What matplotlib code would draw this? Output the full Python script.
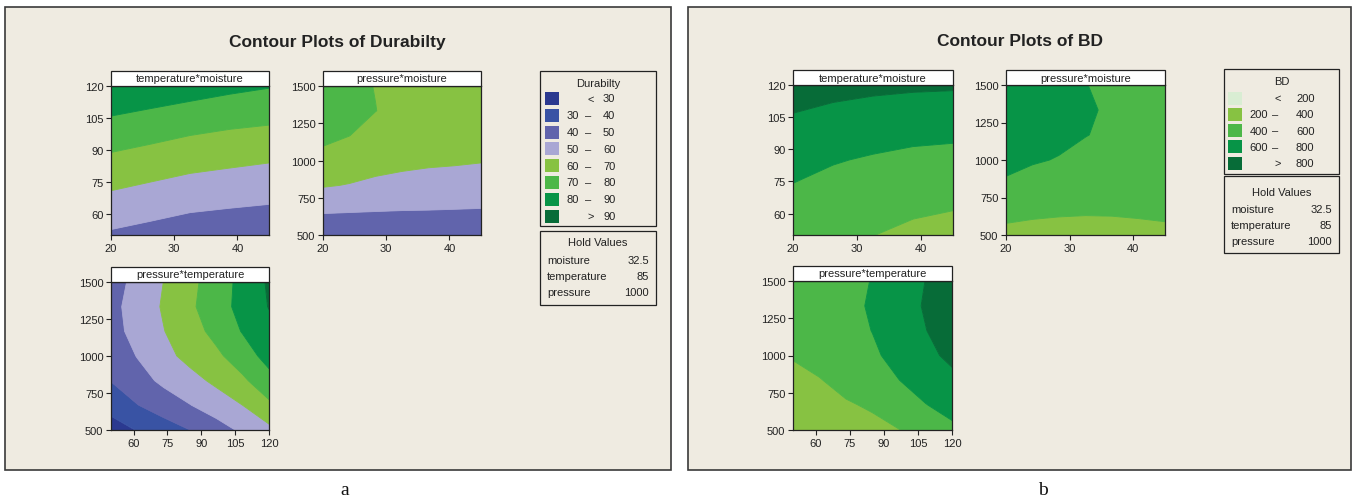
import matplotlib
matplotlib.use("Agg")
import matplotlib.pyplot as plt
from matplotlib.patches import Rectangle

# ---------------------------------------------------------------- data
# factor settings of the coarse (5-level) and fine (7-level) grids
moisture5 = [20, 26.25, 32.5, 38.75, 45]
temperature5 = [50, 67.5, 85, 102.5, 120]
moisture7 = [20, 24.17, 28.33, 32.5, 36.67, 40.83, 45]
temperature7 = [50, 61.67, 73.33, 85, 96.67, 108.33, 120]
pressure7 = [500, 667, 833, 1000, 1167, 1333, 1500]

# Durability response (rows follow the vertical factor, columns the horizontal one)
dur_temp_moist = [
    [48.6, 46.5, 44.3, 43.4, 42.6],
    [58.2, 56.0, 53.8, 52.6, 51.6],
    [67.8, 65.5, 63.3, 61.9, 60.6],
    [78.0, 75.8, 73.3, 71.6, 70.5],
    [88.4, 86.5, 84.7, 82.4, 80.6],
]
dur_press_moist = [
    [40.1, 39.8, 40.1, 39.8, 40.1, 39.8, 40.1],
    [51.6, 51.1, 50.6, 50.2, 50.0, 49.8, 49.6],
    [60.7, 59.6, 58.3, 57.2, 56.4, 55.9, 55.4],
    [67.2, 65.0, 63.0, 62.2, 61.5, 61.1, 60.5],
    [72.1, 70.1, 66.7, 65.5, 64.3, 63.5, 62.8],
    [74.0, 71.5, 70.1, 67.8, 66.3, 65.2, 64.4],
    [74.3, 71.6, 69.8, 67.6, 66.2, 65.3, 64.6],
]
dur_press_temp = [
    [25.7, 30.4, 35.2, 40.0, 45.8, 51.7, 57.5],
    [33.4, 39.7, 44.8, 49.7, 54.8, 60.0, 68.0],
    [40.3, 46.2, 52.0, 56.7, 62.0, 68.2, 76.7],
    [43.7, 50.4, 57.1, 62.9, 68.0, 75.3, 83.5],
    [46.6, 53.2, 59.7, 66.0, 72.9, 80.6, 87.2],
    [47.2, 54.1, 61.0, 68.3, 75.7, 83.1, 90.4],
    [45.8, 52.9, 60.1, 67.4, 75.0, 82.9, 91.3],
]

# BD response
bd_temp_moist = [
    [450, 425, 403, 359, 332],
    [560, 518, 492, 456, 437],
    [666, 613, 581, 555, 543],
    [774, 735, 705, 681, 671],
    [880, 857, 840, 829, 823],
]
bd_press_moist = [
    [338, 321, 312, 315, 328, 345, 363],
    [472, 448, 434, 425, 424, 429, 433],
    [575, 545, 527, 509, 498, 494, 491],
    [647, 613, 593, 569, 550, 539, 531],
    [689, 652, 631, 603, 582, 569, 554],
    [699, 662, 640, 611, 588, 572, 560],
    [679, 641, 620, 603, 573, 559, 548],
]
bd_press_temp = [
    [290, 307, 325, 355, 396, 477, 563],
    [330, 357, 383, 420, 505, 594, 660],
    [369, 392, 452, 522, 598, 676, 756],
    [408, 457, 511, 571, 659, 754, 840],
    [430, 481, 533, 604, 700, 795, 894],
    [439, 491, 547, 622, 719, 816, 905],
    [430, 482, 536, 608, 705, 802, 900],
]

dur_cuts = [30, 40, 50, 60, 70, 80, 90]
bd_cuts = [200, 400, 600, 800]

moisture_ticks = [20, 30, 40]
temperature_ticks = [60, 75, 90, 105, 120]
pressure_ticks = [500, 750, 1000, 1250, 1500]

hold_names = ["moisture", "temperature", "pressure"]
hold_values = ["32.5", "85", "1000"]

# ---------------------------------------------------------------- style
BG = "#EFEBE1"
INK = "#222222"
dur_colors = ["#2B3990", "#3953A4", "#6164AC", "#A9A7D4",
              "#87C242", "#4CB748", "#079447", "#076C38"]
bd_colors = ["#D9EDD3", "#87C242", "#4CB748", "#079447", "#076C38"]

plt.rcParams["font.family"] = ["Liberation Sans", "DejaVu Sans"]

W, H = 1354, 502
fig = plt.figure(figsize=(W / 100, H / 100), dpi=100)
fig.patch.set_facecolor("white")


def fx(x):
    return x / W


def fy(y):
    return 1 - y / H


def rect_px(l, t, r, b, **kw):
    p = Rectangle((fx(l), fy(b)), fx(r) - fx(l), fy(t) - fy(b),
                  transform=fig.transFigure, **kw)
    fig.patches.append(p)
    return p


def text_px(x, y, s, **kw):
    fig.text(fx(x), fy(y), s, **kw)


def contour_panel(box, xs, ys, z, cuts, colors, label, xticks, yticks, xlim, ylim):
    l, t, r, b = box
    ax = fig.add_axes([fx(l), fy(b), fx(r) - fx(l), fy(t) - fy(b)])
    levels = [-1e6] + list(cuts) + [1e6]
    cs = ax.contourf(xs, ys, z, levels=levels, colors=colors, antialiased=True)
    cs.set_edgecolor("face")
    cs.set_linewidth(0.6)
    ax.set_xlim(*xlim)
    ax.set_ylim(*ylim)
    ax.set_xticks(xticks)
    ax.set_yticks(yticks)
    ax.tick_params(direction="out", length=3.5, width=0.8, pad=2,
                   labelsize=8, colors=INK)
    for s in ax.spines.values():
        s.set_linewidth(0.9)
        s.set_color(INK)
    # header strip naming the factor pair
    rect_px(l, t - 15, r, t, facecolor="white", edgecolor=INK,
            linewidth=0.9, zorder=3)
    text_px((l + r) / 2, t - 7.5, label, ha="center", va="center",
            fontsize=8, color=INK, zorder=4)
    return ax


def legend_block(box, title, cuts, colors, sq_x, left_r, sym_x, right_l, row0, dy):
    l, t, r, b = box
    rect_px(l, t, r, b, facecolor=BG, edgecolor=INK, linewidth=0.9, zorder=1)
    text_px((l + r) / 2, t + 12, title, ha="center", va="center",
            fontsize=8, color=INK)
    n = len(cuts) + 1
    kw = dict(va="center", fontsize=8, color=INK)
    for i in range(n):
        y = row0 + i * dy
        rect_px(sq_x, y - 6.5, sq_x + 14, y + 6.5, facecolor=colors[i],
                edgecolor="none", zorder=2)
        if i == 0:
            text_px(sym_x + 3, y, "<", ha="center", **kw)
            text_px(right_l, y, f"{cuts[0]}", ha="left", **kw)
        elif i == n - 1:
            text_px(sym_x + 3, y, ">", ha="center", **kw)
            text_px(right_l, y, f"{cuts[-1]}", ha="left", **kw)
        else:
            text_px(left_r, y, f"{cuts[i - 1]}", ha="right", **kw)
            text_px(sym_x, y, "–", ha="center", **kw)
            text_px(right_l, y, f"{cuts[i]}", ha="left", **kw)


def hold_block(box, title_y, row0, dy):
    l, t, r, b = box
    rect_px(l, t, r, b, facecolor=BG, edgecolor=INK, linewidth=0.9, zorder=1)
    text_px((l + r) / 2, title_y, "Hold Values", ha="center", va="center",
            fontsize=8, color=INK)
    for i, (nm, v) in enumerate(zip(hold_names, hold_values)):
        y = row0 + i * dy
        text_px(l + 7, y, nm, ha="left", va="center", fontsize=8, color=INK)
        text_px(r - 7, y, v, ha="right", va="center", fontsize=8, color=INK)


# ---------------------------------------------------------------- frames
for (l, r) in [(5, 671), (688, 1351)]:
    rect_px(l, 8, r, 471, facecolor=BG, edgecolor="#3a3a3a", linewidth=1.2, zorder=-5)

text_px(337, 42, "Contour Plots of Durabilty", ha="center", va="center",
        fontsize=12.5, fontweight="bold", color=INK)
text_px(1020, 42, "Contour Plots of BD", ha="center", va="center",
        fontsize=12.5, fontweight="bold", color=INK)

# ---------------------------------------------------------------- durability
contour_panel((111, 87, 269, 236), moisture5, temperature5, dur_temp_moist,
              dur_cuts, dur_colors, "temperature*moisture",
              moisture_ticks, temperature_ticks, (20, 45), (50, 120))
contour_panel((323, 87, 481, 236), moisture7, pressure7, dur_press_moist,
              dur_cuts, dur_colors, "pressure*moisture",
              moisture_ticks, pressure_ticks, (20, 45), (500, 1500))
contour_panel((111, 283, 269, 431), temperature7, pressure7, dur_press_temp,
              dur_cuts, dur_colors, "pressure*temperature",
              temperature_ticks, pressure_ticks, (50, 120), (500, 1500))
legend_block((540, 72, 656, 227), "Durabilty", dur_cuts, dur_colors,
             sq_x=545, left_r=579, sym_x=588, right_l=603, row0=99.5, dy=16.8)
hold_block((540, 232, 656, 306), title_y=243, row0=261, dy=16)

# ---------------------------------------------------------------- BD
contour_panel((793, 86, 953, 236), moisture5, temperature5, bd_temp_moist,
              bd_cuts, bd_colors, "temperature*moisture",
              moisture_ticks, temperature_ticks, (20, 45), (50, 120))
contour_panel((1006, 86, 1165, 236), moisture7, pressure7, bd_press_moist,
              bd_cuts, bd_colors, "pressure*moisture",
              moisture_ticks, pressure_ticks, (20, 45), (500, 1500))
contour_panel((793, 282, 952, 431), temperature7, pressure7, bd_press_temp,
              bd_cuts, bd_colors, "pressure*temperature",
              temperature_ticks, pressure_ticks, (50, 120), (500, 1500))
legend_block((1224, 70, 1339, 175), "BD", bd_cuts, bd_colors,
             sq_x=1228, left_r=1268, sym_x=1275, right_l=1296, row0=99, dy=16.3)
hold_block((1224, 177, 1339, 254), title_y=193, row0=210, dy=16)

# ---------------------------------------------------------------- captions
for x, s in [(345, "a"), (1043, "b")]:
    text_px(x, 491, s, ha="center", va="center", fontsize=14,
            family=["Liberation Serif", "DejaVu Serif"], color="#111111")

fig.savefig("out.png", dpi=100, facecolor="white")
